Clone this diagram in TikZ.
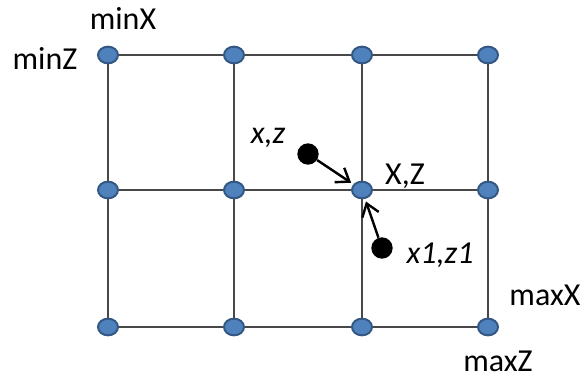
\documentclass[tikz,border=0pt]{standalone}
\usepackage{fontspec}
\setmainfont{Carlito}
\usetikzlibrary{arrows.meta,shapes.geometric}
\definecolor{GridBlue}{RGB}{79,129,189}
\definecolor{GridEdge}{RGB}{52,88,132}
\definecolor{GridLine}{RGB}{72,72,72}
\begin{document}
\begin{tikzpicture}[x=0.75pt,y=-0.75pt,>={Straight Barb[length=9pt,width=13pt]},every node/.style={font=\fontsize{24}{28}\selectfont}]
\tikzset{gpoint/.style={ellipse,draw=GridEdge,line width=1.5pt,fill=GridBlue,minimum width=15pt,minimum height=12.5pt,inner sep=0pt},
  spoint/.style={circle,fill=black,minimum size=16pt,inner sep=0pt},
  lbl/.style={inner sep=0pt}}
\useasboundingbox (0,0) rectangle (583,379);
% grid points
\node[gpoint] (a1) at (108,55) {};
\node[gpoint] (a2) at (234,55) {};
\node[gpoint] (a3) at (362,55) {};
\node[gpoint] (a4) at (488,55) {};
\node[gpoint] (b1) at (108,190) {};
\node[gpoint] (b2) at (234,190) {};
\node[gpoint] (b3) at (362,190) {};
\node[gpoint] (b4) at (488,190) {};
\node[gpoint] (c1) at (108,327) {};
\node[gpoint] (c2) at (234,327) {};
\node[gpoint] (c3) at (362,327) {};
\node[gpoint] (c4) at (488,327) {};
% sample points
\node[spoint] (xz) at (308,154) {};
\node[spoint] (xz1) at (382,248) {};
% labels
\node[lbl] (minx) at (123,18) {minX};
\node[lbl] (minz) at (45,58) {minZ};
\node[lbl] (lxz) at (268,138) {\itshape x,z};
\node[lbl] (lXZ) at (405,176) {X,Z};
\node[lbl] (lxz1) at (440,255) {\itshape x1,z1};
\node[lbl] (maxx) at (545,295) {maxX};
\node[lbl] (maxz) at (498,361) {maxZ};
% grid lines
\draw[GridLine,line width=1.6pt] (a1)--(a2)--(a3)--(a4);
\draw[GridLine,line width=1.6pt] (b1)--(b2)--(b3)--(b4);
\draw[GridLine,line width=1.6pt] (c1)--(c2)--(c3)--(c4);
\draw[GridLine,line width=1.6pt] (a1)--(b1)--(c1);
\draw[GridLine,line width=1.6pt] (a2)--(b2)--(c2);
\draw[GridLine,line width=1.6pt] (a3)--(b3)--(c3);
\draw[GridLine,line width=1.6pt] (a4)--(b4)--(c4);
% arrows to X,Z
\draw[->,line width=1.8pt,shorten >=2pt] (xz)--(b3);
\draw[->,line width=1.8pt,shorten >=2pt] (xz1)--(b3);
\end{tikzpicture}
\end{document}
